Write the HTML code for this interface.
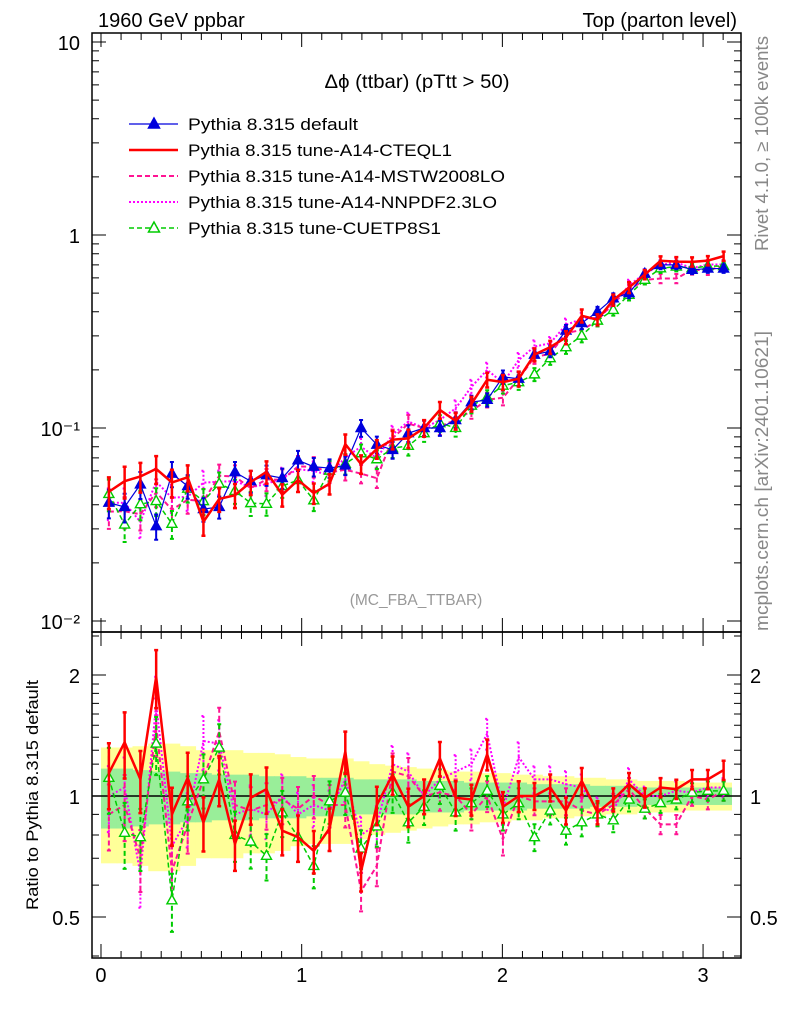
<!DOCTYPE html>
<html><head><meta charset="utf-8"><style>
body{margin:0;background:#fff;}
svg{display:block;font-family:"Liberation Sans",sans-serif;}
</style></head><body>
<svg id="c" width="786" height="1024" xmlns="http://www.w3.org/2000/svg">
<text x="98" y="27" font-size="20">1960 GeV ppbar</text>
<text x="737" y="27" font-size="20" text-anchor="end">Top (parton level)</text>
<text x="417" y="88" font-size="19" text-anchor="middle" textLength="185" lengthAdjust="spacingAndGlyphs">Δϕ (ttbar) (pTtt &gt; 50)</text>
<text x="416" y="605" font-size="15.5" fill="#999" text-anchor="middle">(MC_FBA_TTBAR)</text>
<text transform="translate(768,251) rotate(-90)" font-size="18" fill="#888" textLength="215" lengthAdjust="spacingAndGlyphs">Rivet 4.1.0, ≥ 100k events</text>
<text transform="translate(768,631) rotate(-90)" font-size="18" fill="#888" textLength="300" lengthAdjust="spacingAndGlyphs">mcplots.cern.ch [arXiv:2401.10621]</text>
<text transform="translate(38,795) rotate(-90)" font-size="17" text-anchor="middle" textLength="230" lengthAdjust="spacingAndGlyphs">Ratio to Pythia 8.315 default</text>
<g id="g"></g>
</svg>
<script>
const binCount = [40];
const defaultVals = [0.041,0.039,0.051,0.031,0.058,0.050,0.038,0.039,0.059,0.053,0.057,0.055,0.068,0.063,0.062,0.064,0.100,0.082,0.077,0.094,0.1,0.1,0.11,0.136,0.14,0.184,0.18,0.24,0.25,0.32,0.35,0.4,0.47,0.5,0.63,0.70,0.70,0.66,0.67,0.67];
const ratioCTEQ = [1.14,1.36,1.10,1.98,0.90,1.11,0.86,1.10,0.76,0.99,1.04,0.82,0.79,0.73,0.83,1.29,0.65,0.95,1.13,0.94,1.0,1.24,0.99,0.98,1.27,0.94,1.0,1.0,1.05,0.92,1.09,0.91,0.98,1.07,0.99,1.05,1.04,1.10,1.10,1.16];
const ratioMSTW = [0.9,0.95,0.7,1.5,0.65,0.85,1.1,1.45,0.95,0.92,0.95,0.98,0.93,1.0,0.95,0.95,0.58,0.67,1.15,1.12,1.0,1.02,1.0,0.9,1.0,0.78,1.0,0.97,0.97,0.97,0.92,0.9,0.95,1.04,0.93,0.85,0.85,1.0,0.98,1.03];
const ratioNNPDF = [1.0,1.05,0.64,1.7,0.75,0.88,1.37,1.35,0.9,0.93,0.9,1.0,0.9,0.95,0.92,1.1,0.8,0.85,1.2,1.15,1.0,1.1,1.15,1.2,1.43,0.93,1.25,1.1,1.1,1.07,1.05,0.93,0.92,1.1,1.0,1.0,1.03,1.02,1.05,1.05];
const ratioCUETP = [1.11,0.81,0.79,1.35,0.55,0.97,1.10,1.32,0.80,0.77,0.71,0.91,0.79,0.67,0.97,1.02,0.74,0.84,1.02,0.86,0.94,1.06,0.91,0.96,1.03,0.90,0.96,0.79,0.92,0.82,0.86,0.90,0.87,0.98,0.93,0.96,0.98,1.02,1.03,1.03];
const relErr = [0.17,0.17,0.16,0.15,0.15,0.14,0.14,0.13,0.13,0.13,0.12,0.12,0.12,0.11,0.11,0.11,0.10,0.10,0.10,0.10,0.09,0.09,0.09,0.08,0.08,0.08,0.08,0.07,0.07,0.07,0.07,0.06,0.06,0.06,0.05,0.05,0.05,0.05,0.05,0.05];
const relErrTot = [0.32,0.32,0.33,0.35,0.35,0.33,0.30,0.30,0.30,0.28,0.28,0.27,0.25,0.24,0.24,0.24,0.22,0.20,0.19,0.18,0.17,0.16,0.15,0.15,0.14,0.14,0.13,0.13,0.12,0.12,0.11,0.11,0.10,0.10,0.09,0.09,0.09,0.08,0.08,0.08];
const xTicks = [0,1,2,3];
const yTicksMain = [10,1,0.1,0.01];
const yTickLabelsMain = ["10","1","10⁻¹","10⁻²"];
const yTicksRatio = [0.5,1,2];

const NS="http://www.w3.org/2000/svg";
const g=document.getElementById('g');
const L=92,R=741,T=33,M=632,B=958;
const XMIN=-0.0448,XMAX=3.189;
const X=v=>L+(v-XMIN)/(XMAX-XMIN)*(R-L);
const Y=v=>428-193*Math.log10(v/0.1);
const YR=v=>796-121*Math.log2(v);
const bw=Math.PI/binCount[0];
function el(t,a,p){const e=document.createElementNS(NS,t);for(const k in a)e.setAttribute(k,a[k]);(p||g).appendChild(e);return e;}

const bandG=el('g',{});


defaultVals.forEach((v,i)=>{
  const x0=X(i*bw),x1=X((i+1)*bw);
  const ry=el('rect',{x:x0,y:YR(1+relErrTot[i]),width:x1-x0+0.5,height:YR(1-relErrTot[i])-YR(1+relErrTot[i]),fill:'#ffff99'},bandG);
  
  
});
defaultVals.forEach((v,i)=>{
  const x0=X(i*bw),x1=X((i+1)*bw);
  const rg=el('rect',{x:x0,y:YR(1+relErr[i]),width:x1-x0+0.5,height:YR(1-relErr[i])-YR(1+relErr[i]),fill:'#99ee99'},bandG);
  
  
});
const one=el('line',{x1:L,x2:R,y1:YR(1),y2:YR(1),stroke:'#000','stroke-width':1.5});



const series=[
 {name:'nnpdf',r:ratioNNPDF,c:'#ff00ff',w:2,d:'2,2',m:null},
 {name:'mstw',r:ratioMSTW,c:'#ff1493',w:2,d:'5,3',m:null},
 {name:'cuetp',r:ratioCUETP,c:'#00cc00',w:1.5,d:'5,3',m:'open'},
 {name:'default',r:defaultVals.map(()=>1),c:'#0000dd',w:1.2,d:'',m:'fill'},
 {name:'cteql1',r:ratioCTEQ,c:'#ff0000',w:2.5,d:'',m:null}
];
series.forEach(s=>{
  [['main',i=>defaultVals[i]*s.r[i],Y],['ratio',i=>s.r[i],YR]].forEach(([pan,val,yf])=>{
    const grp=el('g',{});
    
    
    const pts=[];
    defaultVals.forEach((_,i)=>{
      const x=X((i+0.5)*bw),v=val(i),e=relErr[i]*(s.name==='default'?1:1.1);
      const y=yf(v);pts.push(x+','+y);
      if(s.name==='default'&&pan==='ratio')return;
      const y1=yf(v*(1+e)),y2=yf(v*(1-e));
      const eb=el('path',{d:`M${x},${y1}V${y2}M${x-2},${y1}H${x+2}M${x-2},${y2}H${x+2}`,stroke:s.c,'stroke-width':s.name==='cteql1'?2.5:2,'stroke-dasharray':s.d,fill:'none'},grp);
      
      
    });
    if(s.name==='default'&&pan==='ratio')return;
    const pl=el('polyline',{points:pts.join(' '),fill:'none',stroke:s.c,'stroke-width':s.w,'stroke-dasharray':s.d},grp);
    
    
    if(s.m){
      pts.forEach(p=>{const [x,y]=p.split(',').map(Number);
        const m=el('polygon',{points:`${x},${y-5.5} ${x-5},${y+3.5} ${x+5},${y+3.5}`,fill:s.m==='fill'?s.c:'#fff',stroke:s.c,'stroke-width':1.4},grp);
        
        
      });
    }
  });
});

[[T,M],[M,B]].forEach(([a,b],k)=>{
  const f=el('rect',{x:L,y:a,width:R-L,height:b-a,fill:'none',stroke:'#000','stroke-width':1.5});
  
  
});
let tk='';
for(let v=0;v<=3.15;v+=0.1){const x=X(v);const maj=Math.abs(v-Math.round(v))<1e-6;const h=maj?14:7;
  tk+=`M${x},${T}v${h}M${x},${M}v${-h}M${x},${M}v${h}M${x},${B}v${-h}`;}
for(let d=-2;d<=1;d++){for(let m=1;m<=9;m++){const v=m*Math.pow(10,d);if(v>10.5)continue;const y=Y(v);if(y<T||y>M)continue;const h=m===1?14:7;tk+=`M${L},${y}h${h}M${R},${y}h${-h}`;}}
[0.4,0.5,0.6,0.7,0.8,0.9,1,1.1,1.2,1.3,1.4,1.5,1.6,1.7,1.8,1.9,2,2.5].forEach(v=>{const y=YR(v);if(y<M||y>B)return;const maj=yTicksRatio.includes(v);const h=maj?14:7;tk+=`M${L},${y}h${h}M${R},${y}h${-h}`;});
const ticks=el('path',{d:tk,stroke:'#000','stroke-width':1,fill:'none'});


xTicks.forEach(v=>{const t=el('text',{x:X(v),y:982,'font-size':20,'text-anchor':'middle'});t.textContent=v;
  
  });
yTicksMain.forEach((v,i)=>{const t=el('text',{x:80,y:Y(v)+8,'font-size':20,'text-anchor':'end'});t.textContent=yTickLabelsMain[i];
  
  });
yTicksRatio.forEach(v=>{[[80,'end'],[750,'start']].forEach(([x,a])=>{const t=el('text',{x:x,y:YR(v)+8,'font-size':20,'text-anchor':a});t.textContent=v;
  
  });});

const legNames=['Pythia 8.315 default','Pythia 8.315 tune-A14-CTEQL1','Pythia 8.315 tune-A14-MSTW2008LO','Pythia 8.315 tune-A14-NNPDF2.3LO','Pythia 8.315 tune-CUETP8S1'];
const legWidths=[170,264,317,309,253];
const legSty=[['#0000dd',1.2,'','fill'],['#ff0000',2.5,'',null],['#ff1493',2,'5,3',null],['#ff00ff',2,'2,2',null],['#00cc00',1.5,'5,3','open']];
legNames.forEach((n,i)=>{
  const y=124+i*26;
  const lg=el('g',{});
  
  
  const s=legSty[i];
  el('line',{x1:129,x2:178,y1:y,y2:y,stroke:s[0],'stroke-width':s[1],'stroke-dasharray':s[2]},lg);
  if(s[3])el('polygon',{points:`154,${y-6} 148.5,${y+4} 159.5,${y+4}`,fill:s[3]==='fill'?s[0]:'#fff',stroke:s[0],'stroke-width':1.5},lg);
  const t=el('text',{x:188,y:y+6,'font-size':17,textLength:legWidths[i],lengthAdjust:'spacingAndGlyphs'},lg);t.textContent=n;
});
</script>
</body></html>
